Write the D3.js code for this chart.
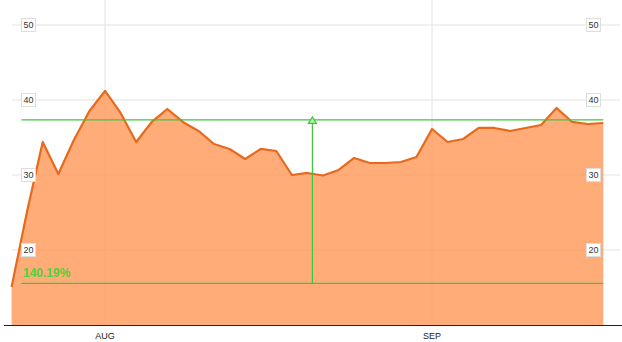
<!DOCTYPE html>
<style>
body { margin: 0; background-color: #FFFFFF; }
svg { display: block; font-family: "Liberation Sans", Arial, sans-serif; }
</style>
<svg width="622" height="342"></svg>
<script src="https://d3js.org/d3.v7.min.js"></script>
<script>

// daily values, one per trading day
var values = [15.07, 25.2, 34.4, 30.13, 34.67, 38.53, 41.2, 38.27, 34.4, 37.07,
              38.8, 37.07, 35.87, 34.13, 33.47, 32.13, 33.47, 33.2, 30.0, 30.27,
              29.93, 30.67, 32.27, 31.6, 31.6, 31.73, 32.4, 36.13, 34.4, 34.8,
              36.27, 36.27, 35.87, 36.27, 36.67, 38.93, 37.07, 36.8, 36.93];
var monthLabels = ["AUG", "SEP"];
var monthIndex = [6, 27];
var yTicks = [20, 30, 40, 50];
var lowLevel = 15.55, highLevel = 37.35, changeText = "140.19%";

var svg = d3.select("svg"),
    width = +svg.attr("width"),
    height = +svg.attr("height");

var x = d3.scaleLinear().domain([0, values.length - 1]).range([11.6, 603.3]);
var y = d3.scaleLinear().domain([10, 53.33]).range([325, 0]);

// grid
svg.append("g").selectAll("line")
  .data(yTicks)
  .enter().append("line")
    .attr("x1", 12).attr("x2", 620)
    .attr("y1", function(d) { return y(d); })
    .attr("y2", function(d) { return y(d); })
    .attr("stroke", "#e2e2e2");

svg.append("g").selectAll("line")
  .data(monthIndex)
  .enter().append("line")
    .attr("x1", function(d) { return x(d); })
    .attr("x2", function(d) { return x(d); })
    .attr("y1", 0).attr("y2", y(10))
    .attr("stroke", "#e2e2e2");

// area + line
var area = d3.area()
    .x(function(d, i) { return x(i); })
    .y0(y(10))
    .y1(function(d) { return y(d); });

var line = d3.line()
    .x(function(d, i) { return x(i); })
    .y(function(d) { return y(d); });

svg.append("path")
    .datum(values)
    .attr("d", area)
    .attr("fill", "#ff9d62")
    .attr("fill-opacity", 0.85);

svg.append("path")
    .datum(values)
    .attr("d", line)
    .attr("fill", "none")
    .attr("stroke", "#e8691c")
    .attr("stroke-width", 2.2)
    .attr("stroke-linejoin", "round");

// x axis
svg.append("line")
    .attr("x1", 4).attr("x2", width)
    .attr("y1", y(10) + 0.5).attr("y2", y(10) + 0.5)
    .attr("stroke", "#222");

svg.append("g").selectAll("text")
  .data(monthIndex)
  .enter().append("text")
    .attr("x", function(d) { return x(d); })
    .attr("y", y(10) + 14)
    .attr("text-anchor", "middle")
    .attr("font-size", 9)
    .attr("fill", "#222")
    .text(function(d, i) { return monthLabels[i]; });

// y tick labels on both sides
[28.5, 593.5].forEach(function(cx) {
  var t = svg.append("g").selectAll("g")
    .data(yTicks)
    .enter().append("g")
      .attr("transform", function(d) { return "translate(" + cx + "," + y(d) + ")"; });
  t.append("rect")
      .attr("x", -7).attr("y", -6.5)
      .attr("width", 14).attr("height", 13)
      .attr("fill", "#fff")
      .attr("stroke", "#ddd");
  t.append("text")
      .attr("dy", "0.35em")
      .attr("text-anchor", "middle")
      .attr("font-size", 9)
      .attr("fill", "#333")
      .text(function(d) { return d; });
});

// change marker
var green = "#3fc63f";
var gx0 = 21.5, gx1 = 603.3, gmid = (gx0 + gx1) / 2;

svg.append("g").selectAll("line")
  .data([lowLevel, highLevel])
  .enter().append("line")
    .attr("x1", gx0).attr("x2", gx1)
    .attr("y1", function(d) { return y(d); })
    .attr("y2", function(d) { return y(d); })
    .attr("stroke", green)
    .attr("stroke-width", 1.2);

svg.append("line")
    .attr("x1", gmid).attr("x2", gmid)
    .attr("y1", y(lowLevel)).attr("y2", y(highLevel))
    .attr("stroke", green)
    .attr("stroke-width", 1.2);

svg.append("path")
    .attr("d", "M" + gmid + "," + (y(highLevel) - 3) + "l4,6.5h-8z")
    .attr("fill", "#b8f0b0")
    .attr("stroke", green)
    .attr("stroke-width", 1.2);

svg.append("text")
    .attr("x", 23)
    .attr("y", y(lowLevel) - 6)
    .attr("font-size", 12)
    .attr("font-weight", "bold")
    .attr("fill", "#4fd23a")
    .text(changeText);

</script>
